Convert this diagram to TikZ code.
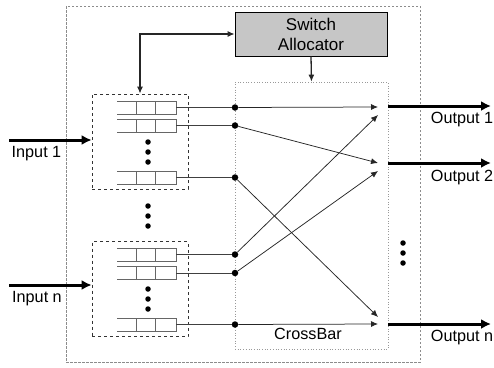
\documentclass[tikz,border=0pt]{standalone}
\usepackage{fontspec}
\setmainfont{Liberation Sans}
\usepackage{tikz}
\usetikzlibrary{calc}
\usetikzlibrary{arrows.meta}
\tikzstyle{outerbox} = [draw=gray!90, line width=0.7pt, dash pattern=on 2.5pt off 1.5pt, minimum width=354, minimum height=356]
\tikzstyle{alloc} = [draw, line width=0.7pt, fill=gray!45, minimum width=152, minimum height=44, align=center, inner sep=0pt, font=\fontsize{17}{20}\selectfont]
\tikzstyle{xbarbox} = [draw=gray!80, line width=0.7pt, dotted, minimum width=153, minimum height=267]
\tikzstyle{inbox} = [draw=black!80, line width=0.7pt, dashed, minimum width=96, minimum height=95]
\tikzstyle{queue} = [minimum width=59, minimum height=13, inner sep=0pt, outer sep=0pt]
\tikzstyle{qline} = [draw=black!60, line width=1pt]
\tikzstyle{junc} = [circle, fill, inner sep=0pt, minimum size=6.5]
\tikzstyle{ellip} = [circle, fill, inner sep=0pt, minimum size=5.5]
\tikzstyle{link} = [draw=black!85, line width=0.75pt, -{Latex[length=7pt,width=6pt]}]
\tikzstyle{bus} = [line width=3pt, -{Latex[length=10pt,width=10pt]}]

\begin{document}
\begin{tikzpicture}[x=1pt,y=-1pt,font=\fontsize{16.2}{19}\selectfont]
    \useasboundingbox (0,0) rectangle (494,367);
    \node [outerbox] (router) at (243,184) {};
    \node [alloc] (alloc) at (311,34) {Switch\\Allocator};
    \node [xbarbox] (xbar) at (311.5,215.5) {};
    \node [inbox] (inbox1) at (140,141.5) {};
    \node [inbox] (inboxn) at (140,289) {};

    % buffers and crossbar inputs
    \foreach \n/\y in {q1/107.5,q2/125.5,q3/177.5,q4/254.5,q5/273,q6/324.5} {
        \node [queue] (\n) at (146.5,\y) {};
        \draw [qline] (\n.north west) -- (\n.north east) -- (\n.south east) -- (\n.south west);
        \draw [qline] ($(\n.north west)!0.33!(\n.north east)$) -- ($(\n.south west)!0.33!(\n.south east)$);
        \draw [qline] ($(\n.north west)!0.66!(\n.north east)$) -- ($(\n.south west)!0.66!(\n.south east)$);
        \node [junc] (j\n) at (235,\y) {};
        \draw [draw=black!75, line width=0.8pt] (\n.east) -- (j\n);
    }
    \foreach \y in {142,152,162} \node [ellip] (da\y) at (148,\y) {};
    \foreach \y in {206,216,226} \node [ellip] (db\y) at (148,\y) {};
    \foreach \y in {289,299,309} \node [ellip] (dc\y) at (148,\y) {};
    \foreach \y in {243,253,263} \node [ellip] (dd\y) at (403,\y) {};

    \coordinate (t1a) at (378,107);
    \coordinate (t1b) at (378,115);
    \coordinate (t2a) at (378,163);
    \coordinate (t2b) at (378,171);
    \coordinate (tna) at (378,317);
    \coordinate (tnb) at (378,324);
    \draw [link] (jq1) -- (t1a);
    \draw [link] (jq2) -- (t2a);
    \draw [link] (jq3) -- (tna);
    \draw [link] (jq4) -- (t1b);
    \draw [link] (jq5) -- (t2b);
    \draw [link] (jq6) -- (tnb);

    \draw [link, line width=1.3pt, {Latex[length=7pt,width=6pt]}-{Latex[length=7pt,width=6pt]}] (inbox1.north) |- (alloc.west);
    \draw [link, line width=1.3pt] (alloc.south) -- (xbar.north);

    % inputs and outputs
    \coordinate (in1) at (9,140);
    \coordinate (inn) at (9,285);
    \draw [bus] (in1) -- (in1 -| inbox1.west);
    \draw [bus] (inn) -- (inn -| inboxn.west);
    \coordinate (out1) at (491,106);
    \coordinate (out2) at (491,163);
    \coordinate (outn) at (491,324);
    \draw [bus] (xbar.east |- out1) -- (out1);
    \draw [bus] (xbar.east |- out2) -- (out2);
    \draw [bus] (xbar.east |- outn) -- (outn);

    \node (in1lbl) at (36.5,154) {Input 1};
    \node (innlbl) at (37,299) {Input n};
    \node (out1lbl) at (462,120) {Output 1};
    \node (out2lbl) at (462,178) {Output 2};
    \node (outnlbl) at (462,338) {Output n};
    \node (xlbl) at (308,334) {CrossBar};
\end{tikzpicture}
\end{document}
